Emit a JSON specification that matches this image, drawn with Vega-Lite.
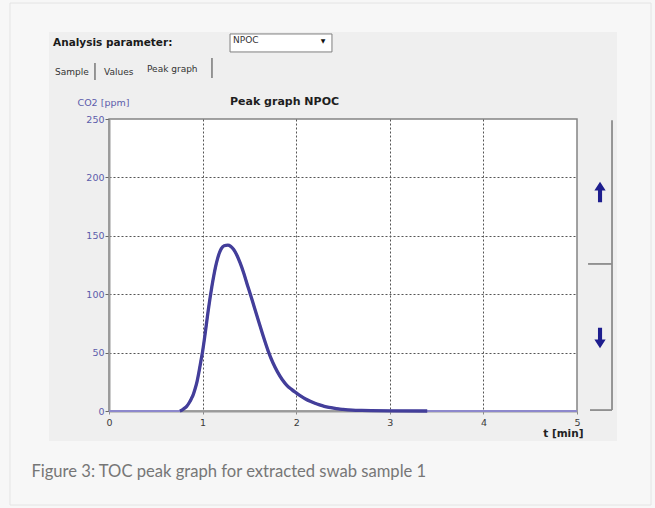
{
  "$schema": "https://vega.github.io/schema/vega-lite/v6.json",
  "width": 468,
  "height": 292,
  "autosize": {"type": "none"},
  "padding": {"left": 109, "top": 119, "right": 78, "bottom": 97},
  "background": "#efefef",
  "config": {
    "view": {"fill": "#ffffff", "stroke": "#848484", "strokeWidth": 1.5},
    "text": {"font": "DejaVu Sans"}
  },
  "datasets": {
    "curve": [
      {"t": 0, "v": 0, "part": "base"},
      {"t": 0.4, "v": 0, "part": "base"},
      {"t": 0.757, "v": 0, "part": "peak"},
      {"t": 0.78, "v": 0.8, "part": "peak"},
      {"t": 0.8, "v": 2, "part": "peak"},
      {"t": 0.83, "v": 4, "part": "peak"},
      {"t": 0.86, "v": 7.5, "part": "peak"},
      {"t": 0.88, "v": 10.5, "part": "peak"},
      {"t": 0.9, "v": 14, "part": "peak"},
      {"t": 0.92, "v": 19, "part": "peak"},
      {"t": 0.94, "v": 25, "part": "peak"},
      {"t": 0.96, "v": 33, "part": "peak"},
      {"t": 0.98, "v": 42, "part": "peak"},
      {"t": 1.0, "v": 51, "part": "peak"},
      {"t": 1.02, "v": 62, "part": "peak"},
      {"t": 1.04, "v": 74, "part": "peak"},
      {"t": 1.06, "v": 86, "part": "peak"},
      {"t": 1.08, "v": 97, "part": "peak"},
      {"t": 1.1, "v": 107, "part": "peak"},
      {"t": 1.12, "v": 116, "part": "peak"},
      {"t": 1.14, "v": 124, "part": "peak"},
      {"t": 1.16, "v": 130.5, "part": "peak"},
      {"t": 1.18, "v": 135.5, "part": "peak"},
      {"t": 1.2, "v": 139, "part": "peak"},
      {"t": 1.23, "v": 141.5, "part": "peak"},
      {"t": 1.27, "v": 142, "part": "peak"},
      {"t": 1.3, "v": 141, "part": "peak"},
      {"t": 1.33, "v": 138.5, "part": "peak"},
      {"t": 1.36, "v": 134.5, "part": "peak"},
      {"t": 1.4, "v": 127, "part": "peak"},
      {"t": 1.44, "v": 118, "part": "peak"},
      {"t": 1.48, "v": 107.5, "part": "peak"},
      {"t": 1.51, "v": 100, "part": "peak"},
      {"t": 1.55, "v": 89.5, "part": "peak"},
      {"t": 1.6, "v": 76.5, "part": "peak"},
      {"t": 1.65, "v": 63.5, "part": "peak"},
      {"t": 1.7, "v": 51.5, "part": "peak"},
      {"t": 1.75, "v": 41.5, "part": "peak"},
      {"t": 1.8, "v": 33.5, "part": "peak"},
      {"t": 1.85, "v": 27, "part": "peak"},
      {"t": 1.9, "v": 22, "part": "peak"},
      {"t": 1.95, "v": 18.5, "part": "peak"},
      {"t": 2.0, "v": 15.5, "part": "peak"},
      {"t": 2.05, "v": 12.7, "part": "peak"},
      {"t": 2.1, "v": 10.3, "part": "peak"},
      {"t": 2.15, "v": 8.3, "part": "peak"},
      {"t": 2.2, "v": 6.6, "part": "peak"},
      {"t": 2.25, "v": 5.2, "part": "peak"},
      {"t": 2.3, "v": 4, "part": "peak"},
      {"t": 2.35, "v": 3.1, "part": "peak"},
      {"t": 2.4, "v": 2.4, "part": "peak"},
      {"t": 2.45, "v": 1.8, "part": "peak"},
      {"t": 2.5, "v": 1.4, "part": "peak"},
      {"t": 2.6, "v": 0.8, "part": "peak"},
      {"t": 2.7, "v": 0.5, "part": "peak"},
      {"t": 2.8, "v": 0.3, "part": "peak"},
      {"t": 3.0, "v": 0.1, "part": "peak"},
      {"t": 3.4, "v": 0, "part": "peak"},
      {"t": 4.0, "v": 0, "part": "base"},
      {"t": 5.0, "v": 0, "part": "base"}
    ],
    "frame": [
      {"t": -1.3, "t2": 6.0, "v": -25.7, "v2": -95},
      {"t": -1.3, "t2": 6.0, "v": 324.5, "v2": 360},
      {"t": -1.3, "t2": -0.641, "v": -95, "v2": 360},
      {"t": 5.427, "t2": 6.0, "v": -95, "v2": 360}
    ],
    "lines": [
      {"t": 5.374, "v": 0.8, "t2": 5.374, "v2": 249},
      {"t": 5.139, "v": 0.8, "t2": 5.374, "v2": 0.8},
      {"t": 5.118, "v": 125.9, "t2": 5.374, "v2": 125.9},
      {"t": -0.15, "v": 297.9, "t2": -0.15, "v2": 283.4},
      {"t": 1.1, "v": 302.2, "t2": 1.1, "v2": 285.1}
    ]
  },
  "encoding": {
    "x": {
      "field": "t",
      "type": "quantitative",
      "scale": {"domain": [0, 5], "nice": false, "zero": false},
      "axis": {
        "values": [0, 1, 2, 3, 4, 5],
        "title": "t [min]",
        "grid": true,
        "gridColor": "#555555",
        "gridDash": [2, 2],
        "gridWidth": 1,
        "gridOpacity": {"condition": {"test": "datum.value == 0 || datum.value == 5", "value": 0}, "value": 1},
        "domainColor": "#9a9a9a",
        "domainWidth": 2,
        "tickColor": "#8a8a8a",
        "tickSize": 3,
        "labelFont": "DejaVu Sans",
        "labelFontSize": 9.5,
        "labelColor": "#3a3a3a",
        "labelPadding": 3,
        "labelFlush": false,
        "titleFont": "DejaVu Sans",
        "titleFontSize": 10.5,
        "titleFontWeight": "bold",
        "titleColor": "#222222",
        "titleX": 474,
        "titleY": 22,
        "titleAlign": "right",
        "titleBaseline": "middle"
      }
    },
    "y": {
      "field": "v",
      "type": "quantitative",
      "scale": {"domain": [0, 250], "nice": false},
      "axis": {
        "values": [0, 50, 100, 150, 200, 250],
        "title": "CO2 [ppm]",
        "grid": true,
        "gridColor": "#555555",
        "gridDash": [2, 2],
        "gridWidth": 1,
        "gridOpacity": {"condition": {"test": "datum.value == 0 || datum.value == 250", "value": 0}, "value": 1},
        "domainColor": "#9a9a9a",
        "domainWidth": 2,
        "tickColor": "#666666",
        "tickSize": 4,
        "labelFont": "DejaVu Sans",
        "labelFontSize": 9.5,
        "labelColor": "#5c5cab",
        "labelPadding": 1,
        "titleAngle": 0,
        "titleX": -32,
        "titleY": -17,
        "titleAlign": "left",
        "titleBaseline": "middle",
        "titleFont": "DejaVu Sans",
        "titleFontSize": 9.5,
        "titleFontWeight": "normal",
        "titleColor": "#5c5cab"
      }
    }
  },
  "layer": [
    {
      "data": {"name": "frame"},
      "mark": {"type": "rect", "fill": "#f7f7f7"},
      "encoding": {"x2": {"field": "t2"}, "y2": {"field": "v2"}}
    },
    {
      "data": {"values": [{"t": -1.058, "t2": 5.791, "v": 349.3, "v2": -80.5}]},
      "mark": {"type": "rect", "fill": "transparent", "stroke": "#e4e4e4", "strokeWidth": 1},
      "encoding": {"x2": {"field": "t2"}, "y2": {"field": "v2"}}
    },
    {
      "data": {"values": [{"t": 1.293, "t2": 2.382, "v": 322.8, "v2": 307.4}]},
      "mark": {"type": "rect", "fill": "#ffffff", "stroke": "#7f7f7f", "strokeWidth": 1},
      "encoding": {"x2": {"field": "t2"}, "y2": {"field": "v2"}}
    },
    {
      "data": {"name": "lines"},
      "mark": {"type": "rule", "color": "#8c8c8c", "strokeWidth": 1.8},
      "encoding": {"x2": {"field": "t2"}, "y2": {"field": "v2"}}
    },
    {
      "data": {"values": [{"t": 5.246, "v": 187.5, "dir": "up"}, {"t": 5.246, "v": 62.5, "dir": "down"}]},
      "mark": {"type": "point", "filled": true, "color": "#1e1e8e", "opacity": 1, "size": 420},
      "encoding": {
        "shape": {
          "field": "dir",
          "type": "nominal",
          "scale": {
            "domain": ["up", "down"],
            "range": [
              "M0,-1L0.55,-0.15L0.2,-0.15L0.2,1L-0.2,1L-0.2,-0.15L-0.55,-0.15Z",
              "M0,1L0.55,0.15L0.2,0.15L0.2,-1L-0.2,-1L-0.2,0.15L-0.55,0.15Z"
            ]
          },
          "legend": null
        }
      }
    },
    {
      "data": {"name": "curve"},
      "mark": {"type": "line", "color": "#8d88cc", "strokeWidth": 2.2, "interpolate": "monotone"}
    },
    {
      "data": {"name": "curve"},
      "transform": [{"filter": "datum.part == 'peak'"}],
      "mark": {"type": "line", "color": "#433e9a", "strokeWidth": 3.3, "interpolate": "monotone"}
    },
    {
      "data": {"values": [
        {"label": "Analysis parameter:", "t": -0.598, "v": 315.1}
      ]},
      "mark": {"type": "text", "align": "left", "baseline": "middle", "font": "DejaVu Sans", "fontSize": 10.5, "fontWeight": "bold", "color": "#1a1a1a"},
      "encoding": {"text": {"field": "label"}}
    },
    {
      "data": {"values": [
        {"label": "Peak graph NPOC", "t": 1.293, "v": 264.6}
      ]},
      "mark": {"type": "text", "align": "left", "baseline": "middle", "font": "DejaVu Sans", "fontSize": 11, "fontWeight": "bold", "color": "#1e1e1e"},
      "encoding": {"text": {"field": "label"}}
    },
    {
      "data": {"values": [
        {"label": "Sample", "t": -0.577, "v": 290.2},
        {"label": "Values", "t": -0.053, "v": 290.2},
        {"label": "Peak graph", "t": 0.406, "v": 292.8},
        {"label": "NPOC", "t": 1.325, "v": 317.6}
      ]},
      "mark": {"type": "text", "align": "left", "baseline": "middle", "font": "DejaVu Sans", "fontSize": 9, "color": "#333333"},
      "encoding": {"text": {"field": "label"}}
    },
    {
      "data": {"values": [{"label": "▼", "t": 2.286, "v": 316.8}]},
      "mark": {"type": "text", "align": "center", "baseline": "middle", "font": "DejaVu Sans", "fontSize": 6, "color": "#111111"},
      "encoding": {"text": {"field": "label"}}
    },
    {
      "data": {"values": [{"label": "Figure 3: TOC peak graph for extracted swab sample 1", "t": -0.829, "v": -52.2}]},
      "mark": {"type": "text", "align": "left", "baseline": "middle", "font": "Lato", "fontSize": 16.6, "fontWeight": "normal", "color": "#767676"},
      "encoding": {"text": {"field": "label"}}
    }
  ]
}
